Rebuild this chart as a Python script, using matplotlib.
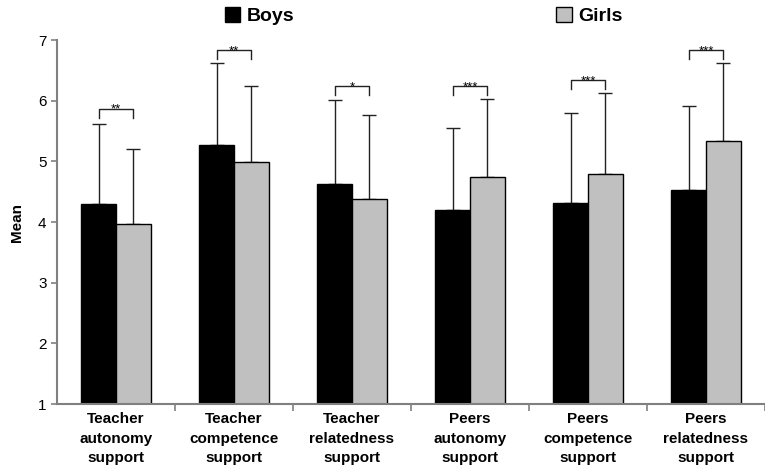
import numpy as np
import matplotlib.pyplot as plt
from matplotlib.patches import Patch

plt.rcParams['font.family'] = ['Liberation Sans', 'DejaVu Sans']

# Datos
categories = ['Teacher\nautonomy\nsupport', 'Teacher\ncompetence\nsupport',
              'Teacher\nrelatedness\nsupport', 'Peers\nautonomy\nsupport',
              'Peers\ncompetence\nsupport', 'Peers\nrelatedness\nsupport']
boys_mean = [4.30, 5.27, 4.63, 4.20, 4.32, 4.53]
boys_sd = [1.31, 1.35, 1.38, 1.35, 1.48, 1.39]
girls_mean = [3.97, 4.99, 4.38, 4.74, 4.79, 5.33]
girls_sd = [1.24, 1.25, 1.38, 1.28, 1.33, 1.29]
bracket_top = [5.87, 6.83, 6.24, 6.24, 6.34, 6.83]
stars = ['**', '**', '*', '***', '***', '***']

x = np.arange(len(categories))
w = 0.294
axis_col = '#808080'

fig = plt.figure(figsize=(7.65, 4.76), dpi=100)
ax = fig.add_axes([57 / 765, 72 / 476, 1 - 57 / 765, 364 / 476])

ax.bar(x - w / 2, boys_mean, w, color='black', edgecolor='black', linewidth=1, zorder=2)
ax.bar(x + w / 2, girls_mean, w, color='#c0c0c0', edgecolor='black', linewidth=1, zorder=2)

# solo barras de error hacia arriba
ax.errorbar(x - w / 2, boys_mean, yerr=[np.zeros(6), boys_sd], fmt='none',
            ecolor='#222222', elinewidth=1, capsize=5, capthick=1, zorder=1)
ax.errorbar(x + w / 2, girls_mean, yerr=[np.zeros(6), girls_sd], fmt='none',
            ecolor='#222222', elinewidth=1, capsize=5, capthick=1, zorder=1)

# corchetes de significancia
drop = 0.15
for xi, top, s in zip(x, bracket_top, stars):
    ax.plot([xi - w / 2, xi - w / 2, xi + w / 2, xi + w / 2],
            [top - drop, top, top, top - drop], color='#222222', linewidth=1)
    ax.text(xi, top - 0.07, s, ha='center', va='baseline', fontsize=9.5)

ax.set_ylim(1, 7)
ax.set_xlim(-0.5, -0.5 + 708 / 119)
ax.set_yticks([1, 2, 3, 4, 5, 6, 7])
ax.set_xticks(x)
ax.set_xticklabels(categories, fontweight='bold', fontsize=11, linespacing=1.5)
ax.set_xticks(np.arange(0.5, 5.6, 1), minor=True)
ax.tick_params(axis='x', which='major', length=0, pad=6)
ax.tick_params(axis='x', which='minor', length=5, color=axis_col, width=1.2)
ax.tick_params(axis='y', length=4, color=axis_col, width=1.2, labelsize=11)
ax.set_ylabel('Mean', fontweight='bold', fontsize=11, labelpad=10)

for side in ['top', 'right']:
    ax.spines[side].set_visible(False)
for side in ['left', 'bottom']:
    ax.spines[side].set_color(axis_col)
    ax.spines[side].set_linewidth(1.5)

handles = [Patch(facecolor='black', edgecolor='black', label='Boys'),
           Patch(facecolor='#c0c0c0', edgecolor='black', label='Girls')]
fig.legend(handles=handles, loc='center', bbox_to_anchor=(0.5536, 0.966), ncol=2,
           frameon=False, prop={'weight': 'bold', 'size': 14},
           handlelength=0.8, handleheight=0.8, handletextpad=0.3,
           columnspacing=13.5, borderpad=0)

fig.savefig('out.png', dpi=100)
